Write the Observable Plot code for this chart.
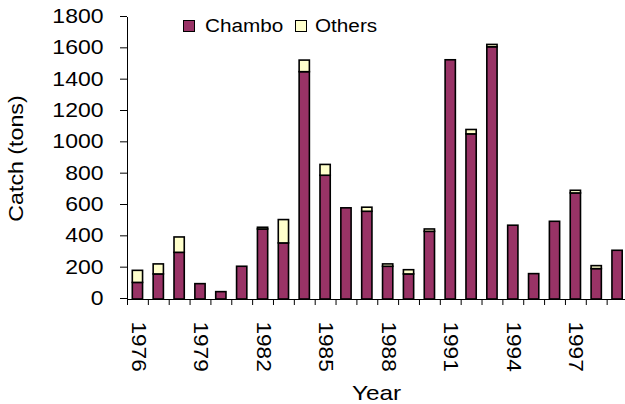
<!DOCTYPE html>
<html>
<head>
<meta charset="utf-8">
<script src="https://cdn.jsdelivr.net/npm/d3@7"></script>
<script src="https://cdn.jsdelivr.net/npm/@observablehq/plot@0.6"></script>
<style>
  html, body { margin: 0; padding: 0; background: #fff; }
  #wrap { position: relative; width: 625px; height: 404px; font-family: "Liberation Sans", Arial, sans-serif; }
  .sw { position: absolute; width: 12px; height: 12px; border: 1.5px solid #000; box-sizing: border-box; }
  .lt { position: absolute; font-size: 18px; line-height: 18px; color: #000; transform: scaleX(1.15); transform-origin: left center; white-space: nowrap; }
</style>
</head>
<body>
<div id="wrap">
  <div class="sw" style="left:183px; top:19.5px; background:#993366"></div>
  <div class="lt" style="left:205px; top:16.5px">Chambo</div>
  <div class="sw" style="left:294.5px; top:19.5px; background:#FFFFCC"></div>
  <div class="lt" style="left:315px; top:16.5px">Others</div>
</div>
<script>
const years  = [1976,1977,1978,1979,1980,1981,1982,1983,1984,1985,1986,1987,1988,1989,1990,1991,1992,1993,1994,1995,1996,1997,1998,1999];
const chambo = [106,160,298,98,47,209,447,358,1451,790,582,560,209,160,432,1527,1054,1610,471,162,496,677,194,311];
const others = [77,64,98,0,0,0,11,149,74,69,0,26,15,27,15,0,28,15,0,0,0,17,19,0];
const seriesNames = ["Chambo","Others"];
const seriesColors = ["#993366","#FFFFCC"];
const yTicks = [0,200,400,600,800,1000,1200,1400,1600,1800];
const labelYears = [1976,1979,1982,1985,1988,1991,1994,1997];

const rows = [];
years.forEach((y, i) => {
  rows.push({year: y, series: "Chambo", value: chambo[i]});
  rows.push({year: y, series: "Others", value: others[i]});
});
const bounds = d3.range(years[0], years[years.length - 1] + 2);

const chart = Plot.plot({
  width: 625,
  height: 404,
  marginLeft: 127,
  marginRight: 0,
  marginTop: 17,
  marginBottom: 105,
  style: {fontFamily: "Liberation Sans, Arial, sans-serif", fontSize: "20px", color: "#000", background: "#fff"},
  x: {type: "linear", domain: [years[0], years[years.length - 1] + 1], range: [127, 627.5], axis: null},
  y: {domain: [0, 1800], axis: null},
  color: {domain: seriesNames, range: seriesColors},
  marks: [
    Plot.rectY(rows, {x1: "year", x2: d => d.year + 1, y: "value", fill: "series", stroke: "#000", strokeWidth: 1.6, insetLeft: 5.3, insetRight: 5.3, order: seriesNames}),
    Plot.axisX({ticks: bounds, tickFormat: () => "", tickSize: 6, stroke: "#000", strokeWidth: 1, label: null}),
    Plot.axisY({ticks: yTicks, tickFormat: d => String(d), tickSize: 7, tickPadding: 17, dy: -1, fontSize: 20, stroke: "#000", label: null}),
    Plot.ruleY([0], {stroke: "#000", strokeWidth: 1}),
    Plot.ruleX([years[0]], {y1: 0, y2: 1800, stroke: "#000", strokeWidth: 1}),
    Plot.text(labelYears, {x: d => d + 0.5, text: d => String(d), frameAnchor: "bottom", rotate: 90, textAnchor: "start", lineAnchor: "middle", dy: 22, fontSize: 20, fill: "#000"}),
    Plot.text(["Year"], {frameAnchor: "bottom", textAnchor: "middle", lineAnchor: "bottom", dy: 100, fontSize: 21, fill: "#000"}),
    Plot.text(["Catch (tons)"], {frameAnchor: "left", rotate: -90, textAnchor: "middle", lineAnchor: "middle", dx: -111, fontSize: 20, fill: "#000"})
  ]
});
document.getElementById("wrap").prepend(chart);
chart.style.position = "absolute";
chart.style.left = "0";
chart.style.top = "0";

// widen glyphs along the text direction, like the original rendering
function widen(t, s) {
  const tr = t.getAttribute("transform");
  if (tr) {
    t.setAttribute("transform", tr + ` scale(${s},1)`);
  } else {
    const x = +(t.getAttribute("x") || 0), y = +(t.getAttribute("y") || 0);
    t.removeAttribute("x"); t.removeAttribute("y");
    t.setAttribute("transform", `translate(${x},${y}) scale(${s},1)`);
  }
}
chart.querySelectorAll("text").forEach(t => {
  const s = t.textContent.trim();
  if (!s) return;
  const tr = t.getAttribute("transform") || "";
  if (s === "Year" || s === "Catch (tons)") widen(t, 1.16);
  else if (tr.includes("rotate(90")) widen(t, 1.13);
  else if (/^\d+$/.test(s)) widen(t, 1.15);
});
</script>
</body>
</html>
